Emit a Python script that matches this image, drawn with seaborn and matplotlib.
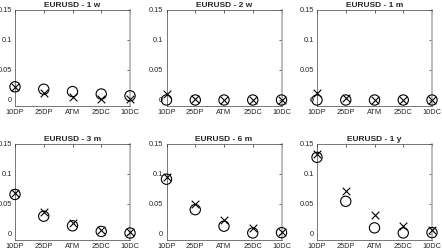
import matplotlib
matplotlib.use("Agg")
import matplotlib.pyplot as plt
import pandas as pd
import seaborn as sns

# strikes on the x axis
strikes = ['10DP', '25DP', 'ATM', '25DC', '10DC']
tenors = ['1 w', '2 w', '1 m', '3 m', '6 m', '1 y']

# circles (o) per tenor
circ_1w = [0.022, 0.018, 0.014, 0.010, 0.007]
circ_2w = [0.000, 0.000, 0.000, 0.000, 0.000]
circ_1m = [0.000, 0.000, 0.000, 0.000, 0.000]
circ_3m = [0.0655, 0.029, 0.013, 0.0035, 0.0008]
circ_6m = [0.091, 0.040, 0.0123, 0.001, 0.0015]
circ_1y = [0.1276, 0.054, 0.0095, 0.001, 0.0015]

# crosses (x) per tenor
cross_1w = [0.021, 0.011, 0.0045, 0.002, 0.002]
cross_2w = [0.0095, 0.002, 0.000, 0.000, 0.000]
cross_1m = [0.011, 0.003, 0.000, 0.000, 0.000]
cross_3m = [0.068, 0.036, 0.017, 0.0067, 0.002]
cross_6m = [0.095, 0.0487, 0.0224, 0.0095, 0.003]
cross_1y = [0.133, 0.071, 0.0308, 0.0123, 0.0062]

circles = [circ_1w, circ_2w, circ_1m, circ_3m, circ_6m, circ_1y]
crosses = [cross_1w, cross_2w, cross_1m, cross_3m, cross_6m, cross_1y]

sns.set_style('white')
plt.rcParams['font.family'] = ['Liberation Sans', 'DejaVu Sans']

W, H = 442, 250
fig = plt.figure(figsize=(W / 100, H / 100), dpi=100)

lefts = [15, 166.5, 317]
tops = [10, 144]
bottoms = [106, 239.5]
width = 115

for i, tenor in enumerate(tenors):
    r, c = divmod(i, 3)
    ax = fig.add_axes([lefts[c] / W, (H - bottoms[r]) / H,
                       width / W, (bottoms[r] - tops[r]) / H])
    df = pd.DataFrame({'pos': range(1, 6), 'circ': circles[i], 'cross': crosses[i]})
    sns.scatterplot(data=df, x='pos', y='circ', ax=ax, marker='o', s=55,
                    facecolor='none', edgecolor='black', linewidth=0.8,
                    clip_on=False, zorder=3)
    sns.scatterplot(data=df, x='pos', y='cross', ax=ax, marker='x', s=30,
                    color='black', linewidth=0.8, clip_on=False, zorder=3)
    ax.set_xlim(1, 5)
    ax.set_ylim(-0.01, 0.15)
    ax.set_xticks(range(1, 6))
    ax.set_xticklabels(strikes)
    ax.set_yticks([0, 0.05, 0.1, 0.15])
    ax.set_yticklabels(['0', '0.05', '0.1', '0.15'])
    ax.set_xlabel('')
    ax.set_ylabel('')
    ax.set_title('EURUSD - ' + tenor, fontsize=6, fontweight='bold', pad=2)
    ax.tick_params(direction='in', length=2, width=0.5, labelsize=5.3,
                   colors='#262626', pad=2.5, top=True, right=True)
    for side, sp in ax.spines.items():
        sp.set_visible(True)
        sp.set_color('#404040')
        sp.set_linewidth(0.5)
    ax.spines['right'].set_color('#b0b0b0')
    ax.spines['right'].set_linewidth(1.2)

fig.savefig('out.png', dpi=100)
